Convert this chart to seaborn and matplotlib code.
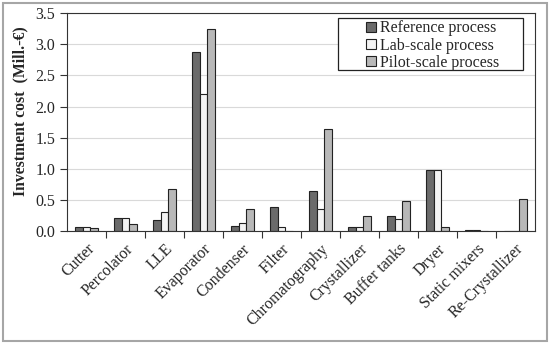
import pandas as pd
import matplotlib.pyplot as plt
import matplotlib.ticker as mticker
from matplotlib.patches import Rectangle
import seaborn as sns

# -- Data -----------------------------------------------------------------------
units = ["Cutter", "Percolator", "LLE", "Evaporator", "Condenser", "Filter",
         "Chromatography", "Crystallizer", "Buffer tanks", "Dryer",
         "Static mixers", "Re-Crystallizer"]
reference = [0.065, 0.21, 0.18, 2.87, 0.08, 0.38, 0.65, 0.06, 0.25, 0.98, 0.025, 0.0]
lab_scale = [0.065, 0.21, 0.31, 2.20, 0.13, 0.06, 0.355, 0.06, 0.19, 0.98, 0.025, 0.0]
pilot_scale = [0.05, 0.11, 0.67, 3.25, 0.35, 0.005, 1.645, 0.24, 0.49, 0.065, 0.0, 0.52]
series = ["Reference process", "Lab-scale process", "Pilot-scale process"]

df = pd.DataFrame({
    "Unit": units * 3,
    "Cost": reference + lab_scale + pilot_scale,
    "Process": [s for s in series for _ in units],
})

# -- Style ----------------------------------------------------------------------
sns.set_theme(style="white")
plt.rcParams["font.family"] = ["Liberation Serif", "DejaVu Serif"]
palette = {series[0]: "#6b6b6b", series[1]: "#f4f4f4", series[2]: "#b8b8b8"}
FS = 11.5

fig, ax = plt.subplots(figsize=(5.5, 3.44), dpi=100)
fig.subplots_adjust(left=0.122, right=0.973, bottom=0.328, top=0.962)

sns.barplot(data=df, x="Unit", y="Cost", hue="Process", palette=palette,
            width=0.58, edgecolor="#222222", linewidth=0.8, ax=ax,
            order=units, hue_order=series, saturation=1)

ax.set_ylim(0, 3.5)
ax.set_xlim(-0.5, len(units) - 0.5)
ax.yaxis.set_major_locator(mticker.MultipleLocator(0.5))
ax.yaxis.set_major_formatter(mticker.FormatStrFormatter("%.1f"))
ax.yaxis.grid(True, color="#d9d9d9", linewidth=0.8)
ax.set_axisbelow(True)

# category ticks hidden, boundary ticks shown
ax.set_xticks(range(len(units)))
ax.set_xticklabels(units, rotation=45, ha="right", rotation_mode="anchor", fontsize=FS)
ax.xaxis.set_minor_locator(mticker.FixedLocator([i + 0.5 for i in range(len(units) - 1)]))
ax.tick_params(axis="x", which="major", length=0, pad=7)
ax.tick_params(axis="x", which="minor", length=5, width=0.8, color="#333333", direction="out", bottom=True)
ax.tick_params(axis="y", length=5, width=0.8, color="#333333", direction="out", left=True, labelsize=FS)

for sp in ax.spines.values():
    sp.set_color("#333333")
    sp.set_linewidth(0.8)

ax.set_xlabel("")
ax.set_ylabel("Investment cost  (Mill.-€)", fontweight="bold", fontsize=11.3)
ax.yaxis.set_label_coords(-0.083, 0.55)

# legend: square handles inside a wide plain box
leg = ax.legend(loc="upper left", bbox_to_anchor=(0.639, 0.966), fontsize=FS,
                frameon=False, handlelength=0.6, handleheight=0.6, handletextpad=0.25,
                borderpad=0, labelspacing=0.08, borderaxespad=0)
leg.set_zorder(6)
ax.add_patch(Rectangle((0.579, 0.739), 0.395, 0.238, transform=ax.transAxes,
                       facecolor="white", edgecolor="#222222", linewidth=0.9, zorder=5))

# outer grey frame
fig.patches.append(Rectangle((0.006, 0.01), 0.988, 0.98, transform=fig.transFigure,
                             fill=False, edgecolor="#a6a6a6", linewidth=1.5))

fig.savefig("out.png", dpi=100)
